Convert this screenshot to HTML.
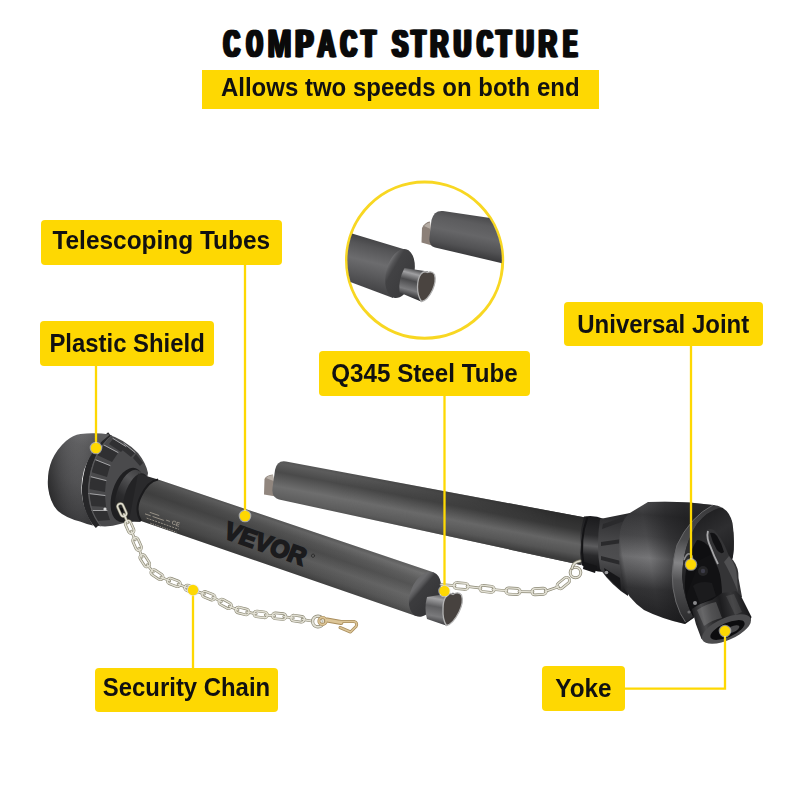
<!DOCTYPE html>
<html><head><meta charset="utf-8">
<style>
html,body{margin:0;padding:0;background:#fff;}
body{width:800px;height:800px;position:relative;overflow:hidden;font-family:"Liberation Sans",sans-serif;}
.title{position:absolute;left:0;top:0;width:800px;height:70px;}
.bar{position:absolute;left:202px;top:70px;width:396.5px;height:38.6px;background:#FED802;}
.lb span{display:inline-block;transform:scaleY(1.04);transform-origin:50% 58%;}
.bar span{transform:scaleY(1.04);transform-origin:50% 58%;position:absolute;left:0;right:0;top:0;line-height:36.6px;text-align:center;font-weight:bold;font-size:24px;color:#111;white-space:nowrap;}
.lb{position:absolute;background:#FED802;border-radius:4px;color:#111;font-weight:bold;font-size:24.3px;text-align:center;white-space:nowrap;height:45px;line-height:42px;}
svg{position:absolute;left:0;top:0;}
</style></head><body>
<svg id="art" width="800" height="800" viewBox="0 0 800 800">
<defs>
<linearGradient id="gt1" gradientUnits="userSpaceOnUse" x1="300" y1="527.4" x2="284.9" y2="570.8">
<stop offset="0" stop-color="#5a5a5a"/><stop offset=".07" stop-color="#686868"/><stop offset=".22" stop-color="#565656"/><stop offset=".38" stop-color="#4c4c4c"/><stop offset=".62" stop-color="#606060"/><stop offset=".85" stop-color="#525252"/><stop offset="1" stop-color="#404040"/>
</linearGradient>
<linearGradient id="gt1b" gradientUnits="userSpaceOnUse" x1="150" y1="0" x2="430" y2="0">
<stop offset="0" stop-color="#000" stop-opacity=".18"/><stop offset=".5" stop-color="#000" stop-opacity=".05"/><stop offset="1" stop-color="#fff" stop-opacity=".06"/>
</linearGradient>
<linearGradient id="gt2" gradientUnits="userSpaceOnUse" x1="400" y1="482.5" x2="391.8" y2="526">
<stop offset="0" stop-color="#545454"/><stop offset=".08" stop-color="#5c5c5c"/><stop offset=".28" stop-color="#4a4a4a"/><stop offset=".6" stop-color="#6e6e6e"/><stop offset=".85" stop-color="#5e5e5e"/><stop offset="1" stop-color="#4c4c4c"/>
</linearGradient>
<linearGradient id="gt2r" gradientUnits="userSpaceOnUse" x1="400" y1="482.5" x2="391.8" y2="526">
<stop offset="0" stop-color="#2a2a2a"/><stop offset=".3" stop-color="#363636"/><stop offset=".62" stop-color="#646464"/><stop offset=".85" stop-color="#545454"/><stop offset="1" stop-color="#3c3c3c"/>
</linearGradient>
<linearGradient id="gt2m" gradientUnits="userSpaceOnUse" x1="330" y1="0" x2="560" y2="0">
<stop offset="0" stop-color="#fff" stop-opacity="0"/><stop offset="1" stop-color="#fff" stop-opacity="1"/>
</linearGradient>
<mask id="mt2" maskUnits="userSpaceOnUse" x="0" y="0" width="800" height="800"><rect x="0" y="0" width="800" height="800" fill="url(#gt2m)"/></mask>
<radialGradient id="gb1" gradientUnits="userSpaceOnUse" cx="85" cy="450" r="80">
<stop offset="0" stop-color="#626264"/><stop offset=".4" stop-color="#48484a"/><stop offset="1" stop-color="#2a2a2c"/>
</radialGradient>
<linearGradient id="gn1" gradientUnits="userSpaceOnUse" x1="140" y1="465" x2="122" y2="520">
<stop offset="0" stop-color="#2a2a2c"/><stop offset=".3" stop-color="#505052"/><stop offset="1" stop-color="#1f1f21"/>
</linearGradient>
</defs>
<g id="tube2">
<path d="M264.5 479 Q266 475 273 474.5 L276 496.5 L264 494.5 Z" fill="#91867e"/>
<path d="M266 478 Q268 475.5 273 475 L273.5 481 Z" fill="#b8b0a8"/>
<path d="M286 461.5 L588 518 L581 565 L279 499.5 Q271.5 497.5 272.5 488 L275 470 Q277 460 286 461.5Z" fill="url(#gt2)"/>
<path d="M286 461.5 L588 518 L581 565 L279 499.5 Q271.5 497.5 272.5 488 L275 470 Q277 460 286 461.5Z" fill="url(#gt2r)" mask="url(#mt2)"/>
</g>
<defs>
<linearGradient id="gdL" gradientUnits="userSpaceOnUse" x1="95" y1="432" x2="62" y2="522">
<stop offset="0" stop-color="#6a6a6c"/><stop offset=".18" stop-color="#58585a"/><stop offset=".55" stop-color="#4c4c4e"/><stop offset=".85" stop-color="#3a3a3c"/><stop offset="1" stop-color="#2e2e30"/>
</linearGradient>
<linearGradient id="gdL2" gradientUnits="userSpaceOnUse" x1="47" y1="480" x2="95" y2="480">
<stop offset="0" stop-color="#000" stop-opacity=".35"/><stop offset=".25" stop-color="#000" stop-opacity=".08"/><stop offset=".6" stop-color="#fff" stop-opacity=".04"/><stop offset="1" stop-color="#000" stop-opacity=".12"/>
</linearGradient>
<linearGradient id="gcol" gradientUnits="userSpaceOnUse" x1="138" y1="468" x2="116" y2="524">
<stop offset="0" stop-color="#39393b"/><stop offset=".25" stop-color="#555557"/><stop offset=".55" stop-color="#2c2c2e"/><stop offset="1" stop-color="#1a1a1c"/>
</linearGradient>
</defs>
<g id="bellL">
<!-- ribbed ring base -->
<path d="M108 434.5 Q124 439 138 453 Q146 463 148 473 L140 522 Q128 521 120 524 Q110 527.5 98 526 Q84 515 84 490 Q85 455 108 434.5Z" fill="#4a4a4c"/>
<!-- dark openings between ribs -->
<g fill="#303032">
<path d="M103 445 L118 453 L112 462 L97 455Z"/><path d="M95 460 L110 466 L107 477 L91 472Z"/><path d="M90 477 L106 481 L105 492 L89 489Z"/><path d="M89 494 L105 496 L106 507 L91 506Z"/><path d="M92 511 L107 511 L110 520 L97 521Z"/>
<path d="M113 439 L126 447 L121 452 L109 444Z"/><path d="M124 444 L135 453 L131 457 L121 449Z"/><path d="M136 454 L143 463 L140 466 L133 458Z"/>
</g>
<g stroke="#a4a4a6" stroke-width="1" fill="none" stroke-linecap="round">
<path d="M103 444.5 L118 452.5"/><path d="M95 459.5 L110 465.5"/><path d="M90 476.5 L106 480.5"/><path d="M88.5 493.5 L105 495.5"/><path d="M91 510.5 L107 510.5"/><path d="M113 438.5 L126 446.5"/><path d="M124 443.5 L135 452.5"/>
</g>
<circle cx="105" cy="509" r="1.6" fill="#d8d8d8"/>
<!-- rim ring 1 (dark band) -->
<path d="M110 434.5 Q88 452 85 486 Q84 512 98 526" fill="none" stroke="#262628" stroke-width="6"/>
<path d="M112 435.5 Q92 452 89 486 Q88 511 101 526" fill="none" stroke="#59595b" stroke-width="1.2"/>
<!-- dome -->
<path d="M80.5 434 Q95 432.5 110 434.5 Q92 447 84 470 Q76 498 93 525.5 Q86 524 80 521.5 Q66 518 58 511 Q50 503 48 487 Q47 472 52 460 Q57 449 66 441 Q73 435 80.5 434Z" fill="url(#gdL)"/>
<path d="M80.5 434 Q95 432.5 110 434.5 Q92 447 84 470 Q76 498 93 525.5 Q86 524 80 521.5 Q66 518 58 511 Q50 503 48 487 Q47 472 52 460 Q57 449 66 441 Q73 435 80.5 434Z" fill="url(#gdL2)"/>
<!-- collar ring -->
<ellipse cx="127.5" cy="495" rx="15.5" ry="28" transform="rotate(17 127.5 495)" fill="#1f1f21"/>
<ellipse cx="130" cy="495.5" rx="13.5" ry="26.5" transform="rotate(17 130 495.5)" fill="url(#gcol)"/>
<ellipse cx="136" cy="497.5" rx="11.5" ry="25" transform="rotate(17 136 497.5)" fill="#232325"/>
<path d="M138 473.5 L158 479.5 Q147 482 141 496 Q135 510 141 521.5 L129 521Z" fill="#2a2a2c"/>
<circle cx="121" cy="510" r="2.2" fill="#0e0e10"/>
</g>
<g id="tube1">
<path d="M158 479.5 L434 572.5 L416 616 L141 521 Q134 510 141 496 Q148 481 158 479.5Z" fill="url(#gt1)"/>
<path d="M158 479.5 L434 572.5 L416 616 L141 521 Q134 510 141 496 Q148 481 158 479.5Z" fill="url(#gt1b)"/>
<path d="M158 479.5 Q148 481 141 496 Q134 510 141 521" fill="none" stroke="#1b1b1d" stroke-width="2"/>
</g>
<g id="t1end">
<defs><linearGradient id="gface" gradientUnits="userSpaceOnUse" x1="414" y1="590" x2="444" y2="600"><stop offset="0" stop-color="#6a6a6c"/><stop offset=".1" stop-color="#58585a"/><stop offset=".2" stop-color="#3c3c3e"/><stop offset="1" stop-color="#323234"/></linearGradient>
<linearGradient id="gstub" gradientUnits="userSpaceOnUse" x1="440" y1="593" x2="434" y2="624"><stop offset="0" stop-color="#4a4a4c"/><stop offset=".2" stop-color="#a2a2a4"/><stop offset=".45" stop-color="#5e5e60"/><stop offset=".75" stop-color="#7a7a7c"/><stop offset="1" stop-color="#38383a"/></linearGradient></defs>
<ellipse cx="425" cy="594.3" rx="14.5" ry="23.5" transform="rotate(22.5 425 594.3)" fill="url(#gface)"/>
<path d="M427 597 L453 592.7 Q462 594 462 601 L456 617 L446 625.5 L427 619 Q424 608 427 597Z" fill="url(#gstub)"/>
<path d="M446.5 596 Q449 592 453 594.5 Q458 591 461.5 595 Q464 602 459 612 Q453 624 446.5 625.5 Q442.5 620 443 609 Q443 600 446.5 596Z" fill="#47423f" stroke="#b4b4b4" stroke-width="1.3"/>
</g>
<g transform="translate(222.3,537.2) rotate(19.6) skewX(-3)">
<text x="0" y="0" font-family="Liberation Sans" font-weight="bold" font-size="24.5" fill="#1b1b1d" stroke="#1b1b1d" stroke-width="1.9" stroke-linejoin="miter" textLength="85" lengthAdjust="spacingAndGlyphs">VEVOR</text>
<circle cx="91" cy="-13" r="1.6" fill="none" stroke="#222" stroke-width=".7"/>
</g>
<g transform="translate(146,511) rotate(19.2)" fill="none" stroke="#a59e92" stroke-width="0.9" opacity=".85">
<path d="M0 3h6M8 3h12M22 2h4" /><path d="M4 0h10" /><path d="M3 6.5h34" stroke-dasharray="2 1"/><path d="M8 10h28" stroke-dasharray="1.5 1"/>
<text x="28" y="4" font-family="Liberation Sans" font-size="6" font-weight="bold" fill="#a59e92" stroke="none">CE</text>
</g>
<defs>
<linearGradient id="gbr" gradientUnits="userSpaceOnUse" x1="650" y1="503" x2="640" y2="622">
<stop offset="0" stop-color="#4c4c4e"/><stop offset=".1" stop-color="#38383a"/><stop offset=".28" stop-color="#4a4a4c"/><stop offset=".46" stop-color="#767678"/><stop offset=".57" stop-color="#5e5e60"/><stop offset=".72" stop-color="#343436"/><stop offset="1" stop-color="#1e1e20"/>
</linearGradient>
<linearGradient id="gbr2" gradientUnits="userSpaceOnUse" x1="616" y1="560" x2="690" y2="548">
<stop offset="0" stop-color="#151517" stop-opacity=".7"/><stop offset=".1" stop-color="#151517" stop-opacity=".1"/><stop offset=".45" stop-color="#151517" stop-opacity="0"/><stop offset=".75" stop-color="#151517" stop-opacity=".45"/><stop offset="1" stop-color="#151517" stop-opacity=".65"/>
</linearGradient>
<linearGradient id="gnr" gradientUnits="userSpaceOnUse" x1="592" y1="516" x2="586" y2="570">
<stop offset="0" stop-color="#1a1a1c"/><stop offset=".35" stop-color="#2c2c2e"/><stop offset=".55" stop-color="#5c5c5e"/><stop offset=".72" stop-color="#2a2a2c"/><stop offset="1" stop-color="#121214"/>
</linearGradient>
<linearGradient id="gcone" gradientUnits="userSpaceOnUse" x1="612" y1="514" x2="606" y2="590">
<stop offset="0" stop-color="#2a2a2c"/><stop offset=".4" stop-color="#4a4a4c"/><stop offset=".6" stop-color="#4e4e50"/><stop offset="1" stop-color="#1e1e20"/>
</linearGradient>
<linearGradient id="gyk" gradientUnits="userSpaceOnUse" x1="694" y1="612" x2="748" y2="600">
<stop offset="0" stop-color="#262628"/><stop offset=".15" stop-color="#4a4a4c"/><stop offset=".3" stop-color="#2e2e30"/><stop offset=".5" stop-color="#1c1c1e"/><stop offset=".72" stop-color="#363638"/><stop offset="1" stop-color="#161618"/>
</linearGradient>
<linearGradient id="gin" gradientUnits="userSpaceOnUse" x1="700" y1="505" x2="735" y2="560">
<stop offset="0" stop-color="#1a1a1c"/><stop offset=".5" stop-color="#2e2e30"/><stop offset="1" stop-color="#1c1c1e"/>
</linearGradient>
<linearGradient id="grim" gradientUnits="userSpaceOnUse" x1="690" y1="505" x2="680" y2="622"><stop offset="0" stop-color="#3a3a3c"/><stop offset=".3" stop-color="#4a4a4c"/><stop offset=".5" stop-color="#858587"/><stop offset=".65" stop-color="#525254"/><stop offset="1" stop-color="#2a2a2c"/></linearGradient>
</defs>
<g id="bellR">
<!-- neck -->
<path d="M584 516.5 Q594 514.5 604 519 L604 572 Q592 572 581.5 565 Q577 540 584 516.5Z" fill="url(#gnr)"/>
<path d="M587.5 517 Q579 540 583.5 565" fill="none" stroke="#141416" stroke-width="2"/>
<path d="M584 562 L597 566 L595 573 L583 569Z" fill="#151517"/>
<!-- ribbed cone -->
<path d="M600 519 L630 513 L628 596 Q612 586 600 569 Q596 545 600 519Z" fill="url(#gcone)"/>
<g fill="#2a2a2c">
<path d="M602 529 L624 521 L624 517 L603 524Z"/><path d="M601 546 L622 543 L622 539 L601 542Z"/><path d="M601 560 L621 565 L621 561 L601 556Z"/>
</g>
<path d="M604 568 L620 578 L621 590 L606 576Z" fill="#161618"/>
<circle cx="606.5" cy="572.5" r="1.8" fill="#9a9a9c"/>
<!-- dome -->
<path d="M648 502 Q682 500.5 713 505 Q727 509 731.5 521 Q735 540 733 556 Q722 600 685 624 Q662 619 644 610 Q627 598 622 582 Q617 556 620 532 Q622 520 629 513.5Z" fill="url(#gbr)"/>
<path d="M648 502 Q682 500.5 713 505 Q727 509 731.5 521 Q735 540 733 556 Q722 600 685 624 Q662 619 644 610 Q627 598 622 582 Q617 556 620 532 Q622 520 629 513.5Z" fill="url(#gbr2)"/>
<!-- rim band -->
<path d="M713 505 Q690 517 677 545 Q668 575 676 602 Q680 615 685.5 622 Q690 620 693 616 Q684 600 682 577 Q683 545 697 524 Q708 510 722 507.5 Q718 505 713 505Z" fill="url(#grim)"/>
<path d="M713 505 Q690 517 677 545 Q668 575 676 602 Q680 615 685.5 622" fill="none" stroke="#68686a" stroke-width="1"/>
<!-- opening interior -->
<path d="M722 507.5 Q730 512 732.5 523 Q735 540 733 556 Q725 592 693 616 Q684 600 682 577 Q683 545 697 524 Q708 510 722 507.5Z" fill="url(#gin)"/>
<path d="M697 540 Q684 560 685 590 Q687 606 693 616 Q712 602 724 580 L716 556 Q706 540 697 540Z" fill="#0f0f11"/>
<path d="M693 616 L686 596 L700 560 L716 552 L724 570 L726 598 L702 607Z" fill="#121214"/>
<!-- joint bits -->
<path d="M684 560 Q688 550 692 556 L694 566" fill="none" stroke="#8a8a8c" stroke-width="1.6"/>
<circle cx="703" cy="571" r="5" fill="#242426"/><circle cx="703" cy="571" r="2.2" fill="#3c3c48"/>
<path d="M693 586 Q700 580 712 583 L716 596 L700 604Z" fill="#1b1b1d"/>
<circle cx="695" cy="603" r="2" fill="#8a8a8c"/><circle cx="689" cy="612" r="1.6" fill="#6a6a6c"/>
<!-- yoke ear -->
<path d="M706 531 Q709 527.5 714 530 Q722 538 727 551 Q729 557 733 560 Q739 568 738.5 578 L742 597 L722 596 Q722 578 718 568 Q712 556 709 546 Q705 538 706 531Z" fill="#343436"/>
<path d="M710 533 Q714 531.5 717 536 Q722 544 724 552 Q721 555 717 550 Q712 542 710 533Z" fill="#111113"/>
<path d="M708 531 Q706 538 711 548 Q714 556 718 564" fill="none" stroke="#a8a8aa" stroke-width="1.8"/>
<path d="M729 556 Q737 566 737 578 L738 592 Q731 574 724 562Z" fill="#505052"/>
<!-- yoke hub -->
<path d="M692 609 Q700 603 712 600 L722 593 L736 591 L741 596 L751.5 617 Q748 630 731 638 Q714 644 701.5 639 Q695 624 692 609Z" fill="url(#gyk)"/>
<path d="M697 610 Q706 604 716 602 L722 618 Q712 620 704 626Z" fill="#d0d0d0" opacity=".22"/>
<path d="M726 596 L734 594 L742 612 L735 615Z" fill="#9a9a9a" opacity=".18"/>
<ellipse cx="726.5" cy="629" rx="26.5" ry="11" transform="rotate(-24 726.5 629)" fill="#4c4c4e"/>
<ellipse cx="727.5" cy="630" rx="18.5" ry="7" transform="rotate(-24 727.5 630)" fill="#0c0c0e"/>
<ellipse cx="732" cy="629.5" rx="8" ry="3" transform="rotate(-24 732 629.5)" fill="#4a4a4c"/>
</g>
<g id="chains" fill="none" stroke-linecap="round" stroke-linejoin="round">
<g stroke="#8a8774" stroke-width="2.7"><rect x="-6.8" y="-2.9" width="13.5" height="5.8" rx="2.9" transform="translate(122.0,510.0) rotate(66.0)"/><path d="M-4.8 0H4.8" transform="translate(125.8,518.5) rotate(66.0)"/><rect x="-6.8" y="-2.9" width="13.5" height="5.8" rx="2.9" transform="translate(129.6,527.0) rotate(66.0)"/><path d="M-4.8 0H4.8" transform="translate(133.3,535.5) rotate(65.9)"/><rect x="-6.8" y="-2.9" width="13.5" height="5.8" rx="2.9" transform="translate(137.1,544.0) rotate(66.3)"/><path d="M-4.8 0H4.8" transform="translate(140.4,552.7) rotate(70.5)"/><rect x="-6.8" y="-2.9" width="13.5" height="5.8" rx="2.9" transform="translate(144.8,560.8) rotate(57.2)"/><path d="M-4.8 0H4.8" transform="translate(150.2,568.4) rotate(50.2)"/><rect x="-6.8" y="-2.9" width="13.5" height="5.8" rx="2.9" transform="translate(157.0,574.7) rotate(33.6)"/><path d="M-4.8 0H4.8" transform="translate(165.3,579.0) rotate(23.0)"/><rect x="-6.8" y="-2.9" width="13.5" height="5.8" rx="2.9" transform="translate(173.9,582.4) rotate(21.1)"/><path d="M-4.8 0H4.8" transform="translate(182.5,585.9) rotate(22.3)"/><rect x="-6.8" y="-2.9" width="13.5" height="5.8" rx="2.9" transform="translate(191.2,589.3) rotate(21.1)"/><path d="M-4.8 0H4.8" transform="translate(199.9,592.5) rotate(19.8)"/><rect x="-6.8" y="-2.9" width="13.5" height="5.8" rx="2.9" transform="translate(208.6,595.8) rotate(21.4)"/><path d="M-4.8 0H4.8" transform="translate(217.1,599.5) rotate(26.7)"/><rect x="-6.8" y="-2.9" width="13.5" height="5.8" rx="2.9" transform="translate(225.3,603.9) rotate(28.6)"/><path d="M-4.8 0H4.8" transform="translate(233.6,608.1) rotate(23.1)"/><rect x="-6.8" y="-2.9" width="13.5" height="5.8" rx="2.9" transform="translate(242.4,611.0) rotate(14.6)"/><path d="M-4.8 0H4.8" transform="translate(251.5,612.9) rotate(10.0)"/><rect x="-6.8" y="-2.9" width="13.5" height="5.8" rx="2.9" transform="translate(260.7,614.4) rotate(7.6)"/><path d="M-4.8 0H4.8" transform="translate(270.0,615.4) rotate(5.0)"/><rect x="-6.8" y="-2.9" width="13.5" height="5.8" rx="2.9" transform="translate(279.2,616.2) rotate(5.3)"/><path d="M-4.8 0H4.8" transform="translate(288.5,617.3) rotate(8.2)"/><rect x="-6.8" y="-2.9" width="13.5" height="5.8" rx="2.9" transform="translate(297.7,618.7) rotate(8.7)"/><path d="M-4.8 0H4.8" transform="translate(306.8,620.2) rotate(9.2)"/><path d="M-7.0 0H7.0" transform="translate(448.0,585.1) rotate(3.8)"/><rect x="-7.2" y="-3.1" width="14.5" height="6.2" rx="3.1" transform="translate(461.0,586.0) rotate(4.6)"/><path d="M-7.0 0H7.0" transform="translate(474.0,587.3) rotate(6.9)"/><rect x="-7.2" y="-3.1" width="14.5" height="6.2" rx="3.1" transform="translate(487.0,588.9) rotate(6.5)"/><path d="M-7.0 0H7.0" transform="translate(499.9,590.1) rotate(5.1)"/><rect x="-7.2" y="-3.1" width="14.5" height="6.2" rx="3.1" transform="translate(512.9,591.2) rotate(3.7)"/><path d="M-7.0 0H7.0" transform="translate(526.0,591.7) rotate(1.2)"/><rect x="-7.2" y="-3.1" width="14.5" height="6.2" rx="3.1" transform="translate(539.0,591.5) rotate(-3.9)"/><path d="M-7.0 0H7.0" transform="translate(551.8,589.1) rotate(-19.0)"/><rect x="-7.2" y="-3.1" width="14.5" height="6.2" rx="3.1" transform="translate(563.3,583.1) rotate(-39.3)"/></g>
<g stroke="#e2e0d4" stroke-width="1.4"><rect x="-6.8" y="-2.9" width="13.5" height="5.8" rx="2.9" transform="translate(122.0,510.0) rotate(66.0)"/><path d="M-4.8 0H4.8" transform="translate(125.8,518.5) rotate(66.0)"/><rect x="-6.8" y="-2.9" width="13.5" height="5.8" rx="2.9" transform="translate(129.6,527.0) rotate(66.0)"/><path d="M-4.8 0H4.8" transform="translate(133.3,535.5) rotate(65.9)"/><rect x="-6.8" y="-2.9" width="13.5" height="5.8" rx="2.9" transform="translate(137.1,544.0) rotate(66.3)"/><path d="M-4.8 0H4.8" transform="translate(140.4,552.7) rotate(70.5)"/><rect x="-6.8" y="-2.9" width="13.5" height="5.8" rx="2.9" transform="translate(144.8,560.8) rotate(57.2)"/><path d="M-4.8 0H4.8" transform="translate(150.2,568.4) rotate(50.2)"/><rect x="-6.8" y="-2.9" width="13.5" height="5.8" rx="2.9" transform="translate(157.0,574.7) rotate(33.6)"/><path d="M-4.8 0H4.8" transform="translate(165.3,579.0) rotate(23.0)"/><rect x="-6.8" y="-2.9" width="13.5" height="5.8" rx="2.9" transform="translate(173.9,582.4) rotate(21.1)"/><path d="M-4.8 0H4.8" transform="translate(182.5,585.9) rotate(22.3)"/><rect x="-6.8" y="-2.9" width="13.5" height="5.8" rx="2.9" transform="translate(191.2,589.3) rotate(21.1)"/><path d="M-4.8 0H4.8" transform="translate(199.9,592.5) rotate(19.8)"/><rect x="-6.8" y="-2.9" width="13.5" height="5.8" rx="2.9" transform="translate(208.6,595.8) rotate(21.4)"/><path d="M-4.8 0H4.8" transform="translate(217.1,599.5) rotate(26.7)"/><rect x="-6.8" y="-2.9" width="13.5" height="5.8" rx="2.9" transform="translate(225.3,603.9) rotate(28.6)"/><path d="M-4.8 0H4.8" transform="translate(233.6,608.1) rotate(23.1)"/><rect x="-6.8" y="-2.9" width="13.5" height="5.8" rx="2.9" transform="translate(242.4,611.0) rotate(14.6)"/><path d="M-4.8 0H4.8" transform="translate(251.5,612.9) rotate(10.0)"/><rect x="-6.8" y="-2.9" width="13.5" height="5.8" rx="2.9" transform="translate(260.7,614.4) rotate(7.6)"/><path d="M-4.8 0H4.8" transform="translate(270.0,615.4) rotate(5.0)"/><rect x="-6.8" y="-2.9" width="13.5" height="5.8" rx="2.9" transform="translate(279.2,616.2) rotate(5.3)"/><path d="M-4.8 0H4.8" transform="translate(288.5,617.3) rotate(8.2)"/><rect x="-6.8" y="-2.9" width="13.5" height="5.8" rx="2.9" transform="translate(297.7,618.7) rotate(8.7)"/><path d="M-4.8 0H4.8" transform="translate(306.8,620.2) rotate(9.2)"/><path d="M-7.0 0H7.0" transform="translate(448.0,585.1) rotate(3.8)"/><rect x="-7.2" y="-3.1" width="14.5" height="6.2" rx="3.1" transform="translate(461.0,586.0) rotate(4.6)"/><path d="M-7.0 0H7.0" transform="translate(474.0,587.3) rotate(6.9)"/><rect x="-7.2" y="-3.1" width="14.5" height="6.2" rx="3.1" transform="translate(487.0,588.9) rotate(6.5)"/><path d="M-7.0 0H7.0" transform="translate(499.9,590.1) rotate(5.1)"/><rect x="-7.2" y="-3.1" width="14.5" height="6.2" rx="3.1" transform="translate(512.9,591.2) rotate(3.7)"/><path d="M-7.0 0H7.0" transform="translate(526.0,591.7) rotate(1.2)"/><rect x="-7.2" y="-3.1" width="14.5" height="6.2" rx="3.1" transform="translate(539.0,591.5) rotate(-3.9)"/><path d="M-7.0 0H7.0" transform="translate(551.8,589.1) rotate(-19.0)"/><rect x="-7.2" y="-3.1" width="14.5" height="6.2" rx="3.1" transform="translate(563.3,583.1) rotate(-39.3)"/></g>
<!-- left ring + clip -->
<circle cx="318" cy="621.5" r="5.4" stroke="#8a8774" stroke-width="3.2"/>
<circle cx="318" cy="621.5" r="5.4" stroke="#e2e0d4" stroke-width="1.9"/>
<g stroke="#a98d5c">
<circle cx="322.5" cy="621" r="3.6" stroke-width="3"/>
<path d="M327 620 L341 622.5" stroke-width="5"/>
<path d="M339 621.5 L354 621.5 Q358 622.5 356 626.5 L350.5 632 L340 627.5" stroke-width="3"/>
</g>
<g stroke="#dcc597">
<circle cx="322.5" cy="621" r="3.6" stroke-width="1.6"/>
<path d="M327 620 L341 622.5" stroke-width="3.2"/>
<path d="M339 621.5 L354 621.5 Q358 622.5 356 626.5 L350.5 632 L340 627.5" stroke-width="1.5"/>
</g>
<!-- right ring + hook -->
<circle cx="575.5" cy="572.5" r="5.3" stroke="#8a8774" stroke-width="3"/>
<circle cx="575.5" cy="572.5" r="5.3" stroke="#e2e0d4" stroke-width="1.6"/>
<path d="M572 568.5 Q573 562 580 561" stroke="#8a8774" stroke-width="3"/>
<path d="M572 568.5 Q573 562 580 561" stroke="#e2e0d4" stroke-width="1.5"/>
</g>
<defs>
<clipPath id="cc"><circle cx="424.6" cy="260.2" r="77.2"/></clipPath>
<linearGradient id="giA" gradientUnits="userSpaceOnUse" x1="380" y1="241" x2="368" y2="290">
<stop offset="0" stop-color="#444446"/><stop offset=".15" stop-color="#555557"/><stop offset=".45" stop-color="#6c6c6e"/><stop offset=".7" stop-color="#5a5a5c"/><stop offset="1" stop-color="#434345"/>
</linearGradient>
<linearGradient id="giB" gradientUnits="userSpaceOnUse" x1="470" y1="214" x2="462" y2="254">
<stop offset="0" stop-color="#4a4a4c"/><stop offset=".2" stop-color="#5c5c5e"/><stop offset=".5" stop-color="#666668"/><stop offset=".8" stop-color="#525254"/><stop offset="1" stop-color="#3c3c3e"/>
</linearGradient>
<linearGradient id="giS" gradientUnits="userSpaceOnUse" x1="418" y1="268" x2="410" y2="298">
<stop offset="0" stop-color="#2a2a2c"/><stop offset=".22" stop-color="#a0a0a2"/><stop offset=".45" stop-color="#4a4a4c"/><stop offset=".75" stop-color="#7c7c7e"/><stop offset="1" stop-color="#2a2a2c"/>
</linearGradient>
<linearGradient id="giF" gradientUnits="userSpaceOnUse" x1="386" y1="268" x2="414" y2="276">
<stop offset="0" stop-color="#707072"/><stop offset=".12" stop-color="#555557"/><stop offset=".25" stop-color="#424244"/><stop offset="1" stop-color="#3a3a3c"/>
</linearGradient>
</defs>
<g id="inset">
<circle cx="424.6" cy="260.2" r="78.1" fill="#fff" stroke="#F8D722" stroke-width="3"/>
<g clip-path="url(#cc)">
<!-- piece B -->
<path d="M422 228 Q425 222 430 221.5 L432 245.5 L421.5 242.5Z" fill="#8c8078"/>
<path d="M424 226 Q426 223 430 222.5 L430.5 229Z" fill="#b5aca4"/>
<path d="M443 211 L510 221 L510 265 L435 247.5 Q428.5 245.5 429.5 237 L431.5 220 Q434 210 443 211Z" fill="url(#giB)"/>
<!-- piece A -->
<path d="M340 230 L405 249.5 L393 298 L340 278Z" fill="url(#giA)"/>
<ellipse cx="400" cy="273.5" rx="14" ry="25" transform="rotate(14 400 273.5)" fill="url(#giF)"/>
<!-- stub -->
<path d="M404.5 268 L428 271.5 L421 301.5 L399.5 292.5 Q398 280 404.5 268Z" fill="url(#giS)"/>
<path d="M421 274 Q424 270.5 427.5 272.5 Q432 270.5 434.5 274.5 Q436.5 281 432.5 290 Q427.5 300.5 421.5 301.5 Q417.5 296 417.5 287 Q417.5 279 421 274Z" fill="#4a4440" stroke="#b0b0b0" stroke-width="1.3"/>
</g>
</g>
</svg>
<svg id="title" width="800" height="70" viewBox="0 0 800 70"><g font-family="Liberation Sans" font-weight="bold" font-size="38.6" fill="#0a0a0a" stroke="#0a0a0a" stroke-width="0.5"><text transform="translate(222.00,56.9) scale(0.571,1.012)">C</text><text transform="translate(222.90,56.9) scale(0.571,1.012)">C</text><text transform="translate(223.80,56.9) scale(0.571,1.012)">C</text><text transform="translate(224.70,56.9) scale(0.571,1.012)">C</text><text transform="translate(225.60,56.9) scale(0.571,1.012)">C</text><text transform="translate(244.97,56.9) scale(0.522,1.012)">O</text><text transform="translate(245.87,56.9) scale(0.522,1.012)">O</text><text transform="translate(246.77,56.9) scale(0.522,1.012)">O</text><text transform="translate(247.67,56.9) scale(0.522,1.012)">O</text><text transform="translate(248.57,56.9) scale(0.522,1.012)">O</text><text transform="translate(266.38,56.9) scale(0.745,1.012)">M</text><text transform="translate(266.88,56.9) scale(0.745,1.012)">M</text><text transform="translate(267.38,56.9) scale(0.745,1.012)">M</text><text transform="translate(267.88,56.9) scale(0.745,1.012)">M</text><text transform="translate(268.38,56.9) scale(0.745,1.012)">M</text><text transform="translate(293.85,56.9) scale(0.678,1.012)">P</text><text transform="translate(294.75,56.9) scale(0.678,1.012)">P</text><text transform="translate(295.65,56.9) scale(0.678,1.012)">P</text><text transform="translate(296.55,56.9) scale(0.678,1.012)">P</text><text transform="translate(297.45,56.9) scale(0.678,1.012)">P</text><text transform="translate(316.08,56.9) scale(0.649,1.012)">A</text><text transform="translate(316.83,56.9) scale(0.649,1.012)">A</text><text transform="translate(317.58,56.9) scale(0.649,1.012)">A</text><text transform="translate(318.33,56.9) scale(0.649,1.012)">A</text><text transform="translate(319.08,56.9) scale(0.649,1.012)">A</text><text transform="translate(339.00,56.9) scale(0.571,1.012)">C</text><text transform="translate(339.90,56.9) scale(0.571,1.012)">C</text><text transform="translate(340.80,56.9) scale(0.571,1.012)">C</text><text transform="translate(341.70,56.9) scale(0.571,1.012)">C</text><text transform="translate(342.60,56.9) scale(0.571,1.012)">C</text><text transform="translate(359.85,56.9) scale(0.585,1.012)">T</text><text transform="translate(360.75,56.9) scale(0.585,1.012)">T</text><text transform="translate(361.65,56.9) scale(0.585,1.012)">T</text><text transform="translate(362.55,56.9) scale(0.585,1.012)">T</text><text transform="translate(363.45,56.9) scale(0.585,1.012)">T</text><text transform="translate(390.58,56.9) scale(0.601,1.012)">S</text><text transform="translate(391.48,56.9) scale(0.601,1.012)">S</text><text transform="translate(392.38,56.9) scale(0.601,1.012)">S</text><text transform="translate(393.28,56.9) scale(0.601,1.012)">S</text><text transform="translate(394.18,56.9) scale(0.601,1.012)">S</text><text transform="translate(409.74,56.9) scale(0.590,1.012)">T</text><text transform="translate(410.64,56.9) scale(0.590,1.012)">T</text><text transform="translate(411.54,56.9) scale(0.590,1.012)">T</text><text transform="translate(412.44,56.9) scale(0.590,1.012)">T</text><text transform="translate(413.34,56.9) scale(0.590,1.012)">T</text><text transform="translate(428.81,56.9) scale(0.653,1.012)">R</text><text transform="translate(429.56,56.9) scale(0.653,1.012)">R</text><text transform="translate(430.31,56.9) scale(0.653,1.012)">R</text><text transform="translate(431.06,56.9) scale(0.653,1.012)">R</text><text transform="translate(431.81,56.9) scale(0.653,1.012)">R</text><text transform="translate(452.36,56.9) scale(0.599,1.012)">U</text><text transform="translate(453.26,56.9) scale(0.599,1.012)">U</text><text transform="translate(454.16,56.9) scale(0.599,1.012)">U</text><text transform="translate(455.06,56.9) scale(0.599,1.012)">U</text><text transform="translate(455.96,56.9) scale(0.599,1.012)">U</text><text transform="translate(475.38,56.9) scale(0.551,1.012)">C</text><text transform="translate(476.28,56.9) scale(0.551,1.012)">C</text><text transform="translate(477.18,56.9) scale(0.551,1.012)">C</text><text transform="translate(478.08,56.9) scale(0.551,1.012)">C</text><text transform="translate(478.98,56.9) scale(0.551,1.012)">C</text><text transform="translate(494.73,56.9) scale(0.612,1.012)">T</text><text transform="translate(495.63,56.9) scale(0.612,1.012)">T</text><text transform="translate(496.53,56.9) scale(0.612,1.012)">T</text><text transform="translate(497.43,56.9) scale(0.612,1.012)">T</text><text transform="translate(498.33,56.9) scale(0.612,1.012)">T</text><text transform="translate(514.86,56.9) scale(0.599,1.012)">U</text><text transform="translate(515.76,56.9) scale(0.599,1.012)">U</text><text transform="translate(516.66,56.9) scale(0.599,1.012)">U</text><text transform="translate(517.56,56.9) scale(0.599,1.012)">U</text><text transform="translate(518.46,56.9) scale(0.599,1.012)">U</text><text transform="translate(537.04,56.9) scale(0.663,1.012)">R</text><text transform="translate(537.79,56.9) scale(0.663,1.012)">R</text><text transform="translate(538.54,56.9) scale(0.663,1.012)">R</text><text transform="translate(539.29,56.9) scale(0.663,1.012)">R</text><text transform="translate(540.04,56.9) scale(0.663,1.012)">R</text><text transform="translate(561.64,56.9) scale(0.526,1.012)">E</text><text transform="translate(562.54,56.9) scale(0.526,1.012)">E</text><text transform="translate(563.44,56.9) scale(0.526,1.012)">E</text><text transform="translate(564.34,56.9) scale(0.526,1.012)">E</text><text transform="translate(565.24,56.9) scale(0.526,1.012)">E</text></g></svg>
<div class="bar"><span>Allows two speeds on both end</span></div>
<div class="lb" style="left:40.5px;top:220.3px;width:241.5px;height:44.5px;font-size:24.45px;line-height:41.4px;"><span>Telescoping Tubes</span></div>
<div class="lb" style="left:40px;top:321.2px;width:174.2px;height:44.4px;font-size:23.9px;line-height:45.6px;"><span>Plastic Shield</span></div>
<div class="lb" style="left:319px;top:351px;width:211px;height:44.6px;font-size:24.2px;line-height:46.1px;"><span>Q345 Steel Tube</span></div>
<div class="lb" style="left:564px;top:301.5px;width:198.5px;height:44.6px;font-size:24px;line-height:46.2px;"><span>Universal Joint</span></div>
<div class="lb" style="left:95px;top:667.7px;width:183px;height:44.5px;font-size:23.9px;line-height:40px;"><span>Security Chain</span></div>
<div class="lb" style="left:542px;top:666.4px;width:83px;height:44.5px;font-size:24.3px;line-height:46.6px;"><span>Yoke</span></div>
<svg id="lines" width="800" height="800" viewBox="0 0 800 800">
<g stroke="#FED802" stroke-width="2.3" fill="none">
<path d="M245 265V516"/><path d="M96 366V448"/><path d="M444.5 396V591"/><path d="M691 346V564"/><path d="M193 590V668"/><path d="M625 688.6H725V631"/>
</g>
<g fill="#FED802" stroke="rgba(235,235,235,.55)" stroke-width="2.2" paint-order="stroke">
<circle cx="245" cy="516" r="5.2"/><circle cx="96" cy="448" r="5.2"/><circle cx="444.5" cy="591" r="5.2"/><circle cx="691" cy="564.5" r="5.2"/><circle cx="193" cy="590" r="5.2"/><circle cx="725" cy="631" r="5.2"/>
</g>
</svg>
</body></html>
